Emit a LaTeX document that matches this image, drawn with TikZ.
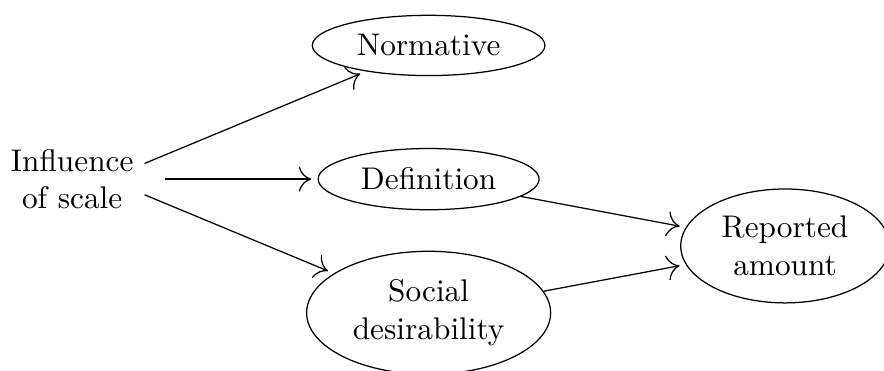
\documentclass[tikz,border=0pt]{standalone}
\usepackage{tikz}
\usetikzlibrary{shapes.geometric}
\usetikzlibrary{arrows.meta}
\usetikzlibrary{positioning}

\tikzset{
    factor/.style={draw, ellipse, align=center},
    effect/.style={-{Computer Modern Rightarrow[length=4pt, width=8pt]}, shorten >=2pt}
}

\begin{document}
\begin{tikzpicture}
        \useasboundingbox (-0.81,-2.145) rectangle (9.11,2.01);
        \node[align=center] (inf) at (0,0) {Influence\\of scale};
        \node[factor] (norm) at (4,1.5) {Normative};
        \node[factor] (def) at (4,0) {Definition};
        \node[factor] (soc) at (4,-1.5) {Social\\desirability};
        \node[factor] (rep) at (8,-0.75) {Reported\\amount};
        \draw[effect] ([yshift=5pt]inf.east) -- (norm);
        \draw[effect] ([xshift=6.5pt]inf.east) -- (def);
        \draw[effect] ([yshift=-5pt]inf.east) -- (soc);
        \draw[effect] (def) -- (rep);
        \draw[effect] (soc) -- (rep);
    \end{tikzpicture}
\end{document}
